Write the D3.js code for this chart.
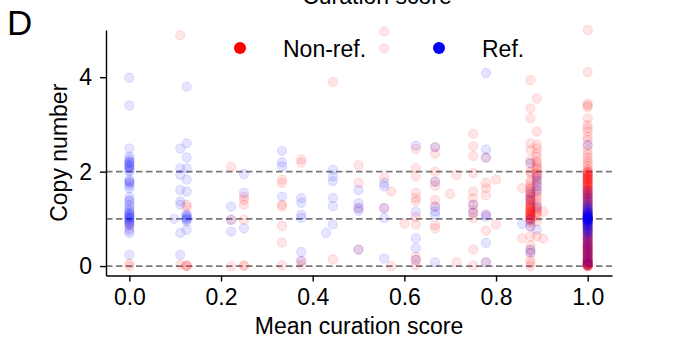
<!DOCTYPE html>
<html>
<head>
<meta charset="utf-8">
<script src="https://cdn.jsdelivr.net/npm/d3@7"></script>
<style>
  body { margin: 0; background: #fff; }
  svg text { font-family: "Liberation Sans", Arial, sans-serif; fill: #000; }
</style>
</head>
<body>
<svg id="chart" width="679" height="338"></svg>
<script>
// Copy number vs mean curation score, grouped by score column
const nonRefColumns = [
  { score: 0.0,   copy: [0.87, 0.05, 0.0] },
  { score: 0.111, copy: [4.89, 0.03] },
  { score: 0.125, copy: [1.30, 1.25, 0.0, 0.02, 0.0] },
  { score: 0.222, copy: [2.10, 0.98, 0.0] },
  { score: 0.25,  copy: [1.47, 1.40, 1.30, 0.98, 0.02, 0.0] },
  { score: 0.333, copy: [1.83, 1.76, 1.30, 1.26, 0.85, 0.50, 0.02] },
  { score: 0.375, copy: [2.26, 2.19, 0.11, 0.02] },
  { score: 0.444, copy: [3.90, 0.14] },
  { score: 0.5,   copy: [2.14, 1.76, 1.23, 0.35] },
  { score: 0.556, copy: [4.97, 4.61, 1.87, 1.23] },
  { score: 0.571, copy: [1.58, 0.0] },
  { score: 0.6,   copy: [0.90] },
  { score: 0.625, copy: [2.48, 2.08, 1.90, 1.55, 1.44, 1.37, 1.04, 0.88, 0.20, 0.13, 0.02] },
  { score: 0.667, copy: [2.52, 2.38, 2.00, 1.79, 1.70, 1.40, 1.26, 0.87, 0.80] },
  { score: 0.7,   copy: [1.53] },
  { score: 0.714, copy: [1.93, 0.08] },
  { score: 0.75,  copy: [2.80, 2.54, 2.33, 1.97, 1.58, 1.44, 1.30, 1.20, 1.13, 1.02, 0.35, 0.02] },
  { score: 0.778, copy: [2.30, 1.76, 1.65, 1.50, 1.09, 0.75, 0.08] },
  { score: 0.8,   copy: [1.83, 0.88] },
  { score: 0.857, copy: [1.65, 0.59] },
  { score: 0.875, copy: [3.94, 3.34, 3.13, 2.60, 2.46, 2.25, 2.18, 2.00, 1.97, 1.82, 1.76, 1.70,
                         1.65, 1.58, 1.54, 1.48, 1.43, 1.40, 1.35, 1.30, 1.26, 1.22, 1.18, 1.14,
                         1.12, 1.08, 1.05, 1.01, 0.98, 0.84, 0.63, 0.44, 0.35, 0.27, 0.13, 0.06,
                         1.50, 1.45, 1.38, 1.32, 1.28, 1.24, 1.20, 1.16, 1.10, 1.06, 1.03, 1.00,
                         0.96, 0.92, 1.62, 1.15, 1.08, 0.00] },
  { score: 0.889, copy: [3.55, 2.85, 2.57, 2.49, 2.39, 2.32, 2.18, 2.11, 2.04, 1.97, 1.90, 1.82,
                         1.75, 1.68, 1.60, 1.54, 1.47, 1.40, 1.33, 1.26, 1.19, 1.12, 1.05, 0.63,
                         2.22, 2.08, 1.94, 1.86, 1.22, 1.15, 0.95] },
  { score: 0.903, copy: [1.15, 0.58] },
  { score: 1.0,   copy: [5.00, 4.11, 3.44, 3.40, 3.37, 3.13, 2.99, 2.92, 2.85, 2.74, 2.67, 2.55,
                         2.45, 2.37, 2.30, 2.24, 2.18, 2.12, 2.06, 2.02, 1.97, 1.94, 1.90, 1.86,
                         1.83, 1.79, 1.76, 1.72, 1.69, 1.65, 1.62, 1.58, 1.55, 1.51, 1.48, 1.44,
                         1.41, 1.37, 1.33, 1.30, 1.26, 1.22, 1.18, 1.14, 1.10, 1.06, 1.02, 0.99,
                         0.95, 0.91, 0.87, 0.83, 0.79, 0.75, 0.71, 0.67, 0.63, 0.59, 0.55, 0.52,
                         0.48, 0.45, 0.41, 0.38, 0.34, 0.31, 0.27, 0.24, 0.20, 0.17, 0.13, 0.10,
                         0.07, 0.04, 0.02, 0.0, 0.0, 0.01, 0.05, 0.09, 0.15, 0.22, 0.29, 0.36,
                         0.43, 0.50, 0.57, 1.98, 1.92, 1.85, 1.78, 1.70, 1.63, 1.55, 1.46, 1.38,
                         1.02, 1.00, 0.98, 0.03, 0.06, 0.11,
                         2.00, 1.95, 1.88, 1.81, 1.74, 1.67, 1.60, 1.53, 1.49, 1.42, 1.35, 1.28,
                         1.20, 1.12, 1.04, 0.97, 0.89, 0.81, 0.73, 0.65, 0.58, 0.53, 0.47, 0.42,
                         0.37, 0.32, 0.28, 0.23, 0.18, 0.14, 0.08, 0.04, 0.01, 0.0, 0.02, 0.06,
                         0.12, 0.19, 0.26, 0.33, 0.40, 0.46, 0.61, 0.69, 1.91, 1.84, 1.73, 1.57] }
];

const refColumns = [
  { score: 0.0,   copy: [3.99, 3.40, 2.49, 2.32, 2.27, 2.22, 2.18, 2.14, 2.10, 2.07, 2.03, 2.00,
                         1.83, 1.78, 1.75, 1.65, 1.47, 1.40, 1.37, 1.30, 1.26, 1.20, 1.16, 1.12,
                         1.09, 1.05, 1.02, 0.98, 0.95, 0.90, 0.87, 0.80, 0.75, 0.70, 0.24,
                         2.20, 2.12, 1.80, 1.70, 1.10, 1.04, 1.00, 0.92] },
  { score: 0.098, copy: [1.00] },
  { score: 0.111, copy: [2.49, 2.07, 1.93, 1.61, 1.37, 1.30, 0.70, 0.24] },
  { score: 0.125, copy: [3.80, 2.60, 2.30, 2.07, 1.83, 1.58, 1.10, 1.05, 1.02, 0.98, 0.95, 0.77,
                         1.00, 1.07] },
  { score: 0.222, copy: [1.26, 0.98, 0.73] },
  { score: 0.25,  copy: [1.95, 1.55, 0.80] },
  { score: 0.333, copy: [2.44, 2.20, 2.11, 1.47] },
  { score: 0.375, copy: [1.44, 1.34, 1.09, 1.02, 0.30, 0.11] },
  { score: 0.429, copy: [0.70] },
  { score: 0.444, copy: [2.04, 1.90, 1.80, 1.44, 1.27, 0.88] },
  { score: 0.5,   copy: [1.61, 1.33, 1.23, 1.17, 0.35] },
  { score: 0.556, copy: [1.76, 1.69, 1.23, 1.02, 0.16] },
  { score: 0.625, copy: [2.55, 1.15, 0.59, 0.38, 0.13] },
  { score: 0.667, copy: [2.52, 1.79, 1.26, 1.16, 1.09, 0.08] },
  { score: 0.75,  copy: [1.30, 1.13] },
  { score: 0.778, copy: [4.09, 2.47, 2.30, 1.09, 1.05, 0.49, 0.08] },
  { score: 0.857, copy: [0.89] },
  { score: 0.875, copy: [2.18, 1.54, 1.40, 0.98, 0.84, 0.34, 0.29] },
  { score: 0.889, copy: [1.90, 1.80, 1.70, 1.60, 1.26, 0.77] },
  { score: 1.0,   copy: [2.57, 1.60, 1.52, 1.45, 1.40, 1.35, 1.31, 1.27, 1.23, 1.19, 1.16, 1.13,
                         1.10, 1.08, 1.06, 1.04, 1.02, 1.01, 1.00, 0.99, 0.97, 0.95, 0.93, 0.90,
                         0.87, 0.84, 0.80, 0.76, 0.72, 0.68, 0.63, 0.55, 0.45, 0.35, 0.25, 0.13,
                         0.05, 1.03, 1.05, 0.98, 0.96,
                         1.25, 1.21, 1.17, 1.14, 1.11, 1.09, 1.07, 1.05, 1.03, 1.01, 1.00, 0.99,
                         0.97, 0.94, 0.91, 0.88, 0.85, 0.82, 0.78, 0.74, 0.70, 0.60, 0.50, 0.40,
                         0.30, 0.20, 0.10, 0.02] }
];

const xTicks = [0, 0.2, 0.4, 0.6, 0.8, 1.0];
const yTicks = [0, 2, 4];
const refLines = [0, 1, 2];

const svg = d3.select('#chart');
const plotLeft = 106, plotRight = 612, plotTop = 30, plotBottom = 275.5;
const fontSize = 23;

const x = d3.scaleLinear().domain([-0.051, 1.053]).range([plotLeft, plotRight]);
const y = d3.scaleLinear().domain([-0.2, 5.0]).range([plotBottom, plotTop]);

// flatten columns into points
function flatten(cols) {
  const pts = [];
  cols.forEach(c => c.copy.forEach(v => pts.push({ score: c.score, copy: v })));
  return pts;
}

// dashed reference lines
svg.append('g')
  .selectAll('line')
  .data(refLines)
  .join('line')
  .attr('x1', plotLeft).attr('x2', plotRight)
  .attr('y1', d => y(d)).attr('y2', d => y(d))
  .attr('stroke', '#7a7a7a')
  .attr('stroke-width', 1.8)
  .attr('stroke-dasharray', '6.5,3.5');

// scatter points, non-ref first then ref on top
const series = [
  { pts: flatten(nonRefColumns), color: 'rgba(255,0,0,0.1)' },
  { pts: flatten(refColumns), color: 'rgba(0,0,255,0.1)' }
];
series.forEach(s => {
  svg.append('g')
    .selectAll('circle')
    .data(s.pts)
    .join('circle')
    .attr('cx', d => x(d.score))
    .attr('cy', d => y(d.copy))
    .attr('r', 4.6)
    .attr('fill', s.color)
    .attr('stroke', s.color)
    .attr('stroke-width', 1.2);
});

// axes
const xAxis = svg.append('g')
  .attr('transform', `translate(0,${plotBottom})`)
  .call(d3.axisBottom(x).tickValues(xTicks).tickFormat(d3.format('.1f'))
    .tickSize(6).tickSizeOuter(0).tickPadding(7));
const yAxis = svg.append('g')
  .attr('transform', `translate(${plotLeft},0)`)
  .call(d3.axisLeft(y).tickValues(yTicks).tickFormat(d3.format('d'))
    .tickSize(6).tickSizeOuter(0).tickPadding(8));

[xAxis, yAxis].forEach(a => {
  a.select('.domain').attr('stroke', '#000').attr('stroke-width', 1.4);
  a.selectAll('.tick line').attr('stroke', '#000').attr('stroke-width', 1.4);
  a.selectAll('.tick text').attr('font-size', fontSize).attr('font-family', null);
});

// axis labels
svg.append('text')
  .attr('x', (plotLeft + plotRight) / 2)
  .attr('y', 334)
  .attr('text-anchor', 'middle')
  .attr('font-size', fontSize)
  .text('Mean curation score');

svg.append('text')
  .attr('transform', `translate(67,${(plotTop + plotBottom) / 2}) rotate(-90)`)
  .attr('text-anchor', 'middle')
  .attr('font-size', fontSize)
  .text('Copy number');

// cut-off label from the panel above
svg.append('text')
  .attr('x', 377)
  .attr('y', 4)
  .attr('text-anchor', 'middle')
  .attr('font-size', fontSize)
  .text('Curation score');

// panel letter
svg.append('text')
  .attr('x', 7)
  .attr('y', 35)
  .attr('font-size', 35)
  .text('D');

// legend
const legend = [
  { label: 'Non-ref.', color: '#ff0000', cx: 240, tx: 283 },
  { label: 'Ref.', color: '#0000ff', cx: 439, tx: 482 }
];
const lg = svg.append('g');
legend.forEach(l => {
  lg.append('circle')
    .attr('cx', l.cx).attr('cy', 48)
    .attr('r', 6)
    .attr('fill', l.color);
  lg.append('text')
    .attr('x', l.tx).attr('y', 56.5)
    .attr('font-size', fontSize)
    .text(l.label);
});
</script>
</body>
</html>
